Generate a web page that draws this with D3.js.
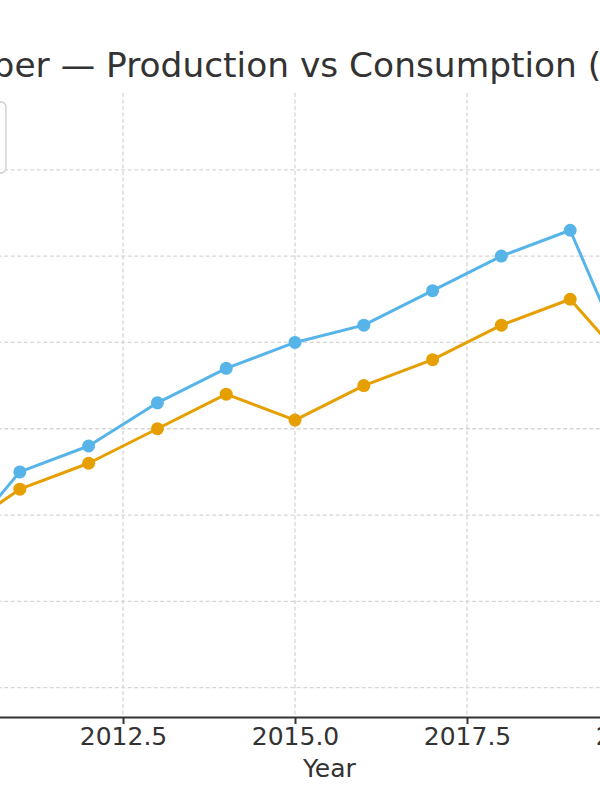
<!DOCTYPE html>
<html><head><meta charset="utf-8">
<script src="https://cdn.jsdelivr.net/npm/d3@7"></script>
<style>
body{margin:0;background:#fff;overflow:hidden}
svg{display:block;font-family:"DejaVu Sans",sans-serif}
</style></head>
<body><svg id="c" width="600" height="800"></svg>
<script>
const years = [2010, 2011, 2012, 2013, 2014, 2015, 2016, 2017, 2018, 2019, 2020, 2021];
const production = [17.55, 18.5, 18.8, 19.3, 19.7, 20.0, 20.2, 20.6, 21.0, 21.3, 19.45, 20.4];
const consumption = [17.75, 18.3, 18.6, 19.0, 19.4, 19.1, 19.5, 19.8, 20.2, 20.5, 19.6, 20.3];
const xTicks = [2010, 2012.5, 2015, 2017.5, 2020];
const yTicks = [16, 17, 18, 19, 20, 21, 22];
const seriesNames = ["Production", "Consumption"];
const seriesColors = ["#56B4E9", "#E69F00"];
const titleText = "Copper — Production vs Consumption (Mt)";
const xLabel = "Year";

const svg = d3.select("#c");
const x = d3.scaleLinear().domain([2009.45, 2021.55]).range([-86.8, 745.6]);
const y = d3.scaleLinear().domain([15.66, 22.89]).range([717, 93]);

// grid
const grid = svg.append("g");
grid.selectAll("line.h").data(yTicks).join("line")
  .attr("x1", x.range()[0]).attr("x2", x.range()[1])
  .attr("y1", d => y(d)).attr("y2", d => y(d))
  .attr("stroke", "#d6d6d6").attr("stroke-width", 1.3).attr("stroke-dasharray", "4,2.5");
grid.selectAll("line.v").data(xTicks).join("line")
  .attr("x1", d => x(d)).attr("x2", d => x(d))
  .attr("y1", y.range()[1]).attr("y2", y.range()[0])
  .attr("stroke", "#d6d6d6").attr("stroke-width", 1.3).attr("stroke-dasharray", "4,2.5");

// series
const series = [production, consumption];
const line = d3.line().x((d, i) => x(years[i])).y(d => y(d));
series.forEach((vals, k) => {
  const g = svg.append("g");
  g.append("path").datum(vals).attr("d", line)
    .attr("fill", "none").attr("stroke", seriesColors[k]).attr("stroke-width", 3)
    .attr("stroke-linejoin", "round");
  g.selectAll("circle").data(vals).join("circle")
    .attr("cx", (d, i) => x(years[i])).attr("cy", d => y(d)).attr("r", 6.5)
    .attr("fill", seriesColors[k]);
});

// x axis
const xa = svg.append("g").attr("transform", `translate(0,${y.range()[0]})`)
  .call(d3.axisBottom(x).tickValues(xTicks).tickFormat(d3.format(".1f")).tickSizeOuter(0).tickSize(7).tickPadding(3));
xa.select(".domain").attr("stroke", "#333").attr("stroke-width", 2);
xa.selectAll(".tick line").attr("stroke", "#333").attr("stroke-width", 2);
xa.selectAll(".tick text").attr("font-size", 25).attr("fill", "#333").attr("font-family", "DejaVu Sans");

// y axis (beyond the left edge)
const ya = svg.append("g").attr("transform", `translate(${x.range()[0]},0)`)
  .call(d3.axisLeft(y).tickValues(yTicks).tickSizeOuter(0).tickSize(7));
ya.select(".domain").attr("stroke", "#333").attr("stroke-width", 2);
ya.selectAll(".tick line").attr("stroke", "#333").attr("stroke-width", 2);
ya.selectAll(".tick text").attr("font-size", 25).attr("fill", "#333").attr("font-family", "DejaVu Sans");

// x label
svg.append("text").attr("x", (x.range()[0] + x.range()[1]) / 2).attr("y", 777)
  .attr("text-anchor", "middle").attr("font-size", 25).attr("fill", "#333").text(xLabel);

// title: positioned so "Production" starts at the reference spot
const tmp = svg.append("text").attr("font-size", 34.4).text("Copper — P");
const tmp2 = svg.append("text").attr("font-size", 34.4).text("P");
const offset = tmp.node().getComputedTextLength() - tmp2.node().getComputedTextLength();
tmp.remove(); tmp2.remove();
svg.append("text").attr("x", 106 - offset).attr("y", 77)
  .attr("font-size", 34.4).attr("fill", "#333").text(titleText);

// legend (mostly beyond the left edge)
const lg = svg.append("g").attr("transform", "translate(-214,102)");
lg.append("rect").attr("width", 220).attr("height", 71).attr("rx", 5)
  .attr("fill", "#fff").attr("fill-opacity", 0.8).attr("stroke", "#cccccc").attr("stroke-width", 1.3);
seriesNames.forEach((n, k) => {
  const row = lg.append("g").attr("transform", `translate(10,${16 + k * 27})`);
  row.append("line").attr("x1", 0).attr("x2", 40).attr("stroke", seriesColors[k]).attr("stroke-width", 3);
  row.append("circle").attr("cx", 20).attr("r", 6.5).attr("fill", seriesColors[k]);
  row.append("text").attr("x", 52).attr("y", 8).attr("font-size", 22).attr("fill", "#333").text(n);
});
</script></body></html>
